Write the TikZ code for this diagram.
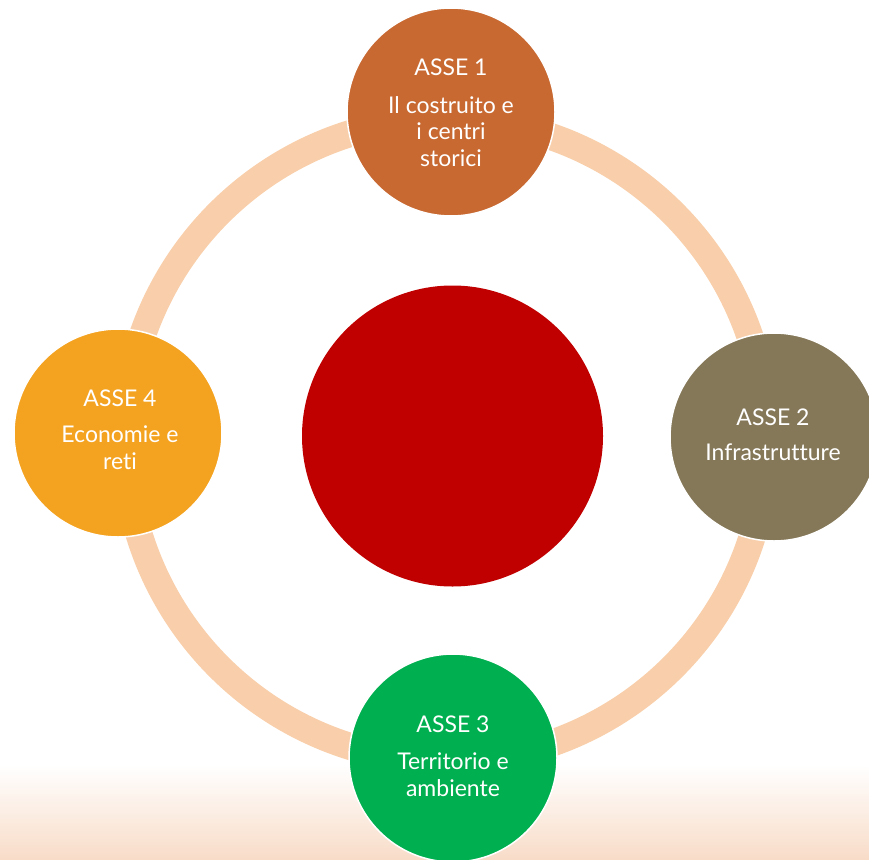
\documentclass[tikz,border=0pt]{standalone}
\usepackage{fontspec}
\setmainfont{Lato}[Ligatures={NoCommon,NoRare,NoContextual}]
\definecolor{ringc}{HTML}{F8CFAA}
\definecolor{c1}{HTML}{C86932}
\definecolor{c2}{HTML}{857859}
\definecolor{c3}{HTML}{00B050}
\definecolor{c4}{HTML}{F4A321}
\definecolor{cred}{HTML}{C00000}
\definecolor{shadec}{HTML}{F8DCC8}
\begin{document}
\begin{tikzpicture}[x=1pt,y=-1pt,
  asse/.style={circle,fill=#1,draw=white,line width=1.5pt,minimum size=208pt,inner sep=0pt},
  ttl/.style={text=white,font=\fontsize{23}{26}\selectfont,anchor=base,align=center},
  body/.style={text=white,font=\fontsize{23}{26.5}\selectfont,anchor=base,align=center}]
\useasboundingbox (0,0) rectangle (869,859);
\shade[top color=white,bottom color=shadec] (0,765) rectangle (869,859);
\coordinate (ctr) at (446,440);
\draw[ringc,line width=27pt] (ctr) circle [radius=321];
\node[circle,fill=cred,minimum size=301pt,inner sep=0pt] (core) at (452.5,436) {};
\node[asse=c1] (a1) at (451,112) {};
\node[asse=c2] (a2) at (774,437) {};
\node[asse=c3] (a3) at (453,758) {};
\node[asse=c4] (a4) at (118,433) {};
\node[ttl] (t1) at (451,75) {ASSE 1};
\node[body] (b1) at (451,166) {Il costruito e\\i centri\\storici};
\node[ttl] (t2) at (773,425) {ASSE 2};
\node[body] (b2) at (773,460) {Infrastrutture};
\node[ttl] (t3) at (453,732) {ASSE 3};
\node[body] (b3) at (453,796) {Territorio e\\ambiente};
\node[ttl] (t4) at (120,406) {ASSE 4};
\node[body] (b4) at (120,469) {Economie e\\reti};
\end{tikzpicture}
\end{document}
